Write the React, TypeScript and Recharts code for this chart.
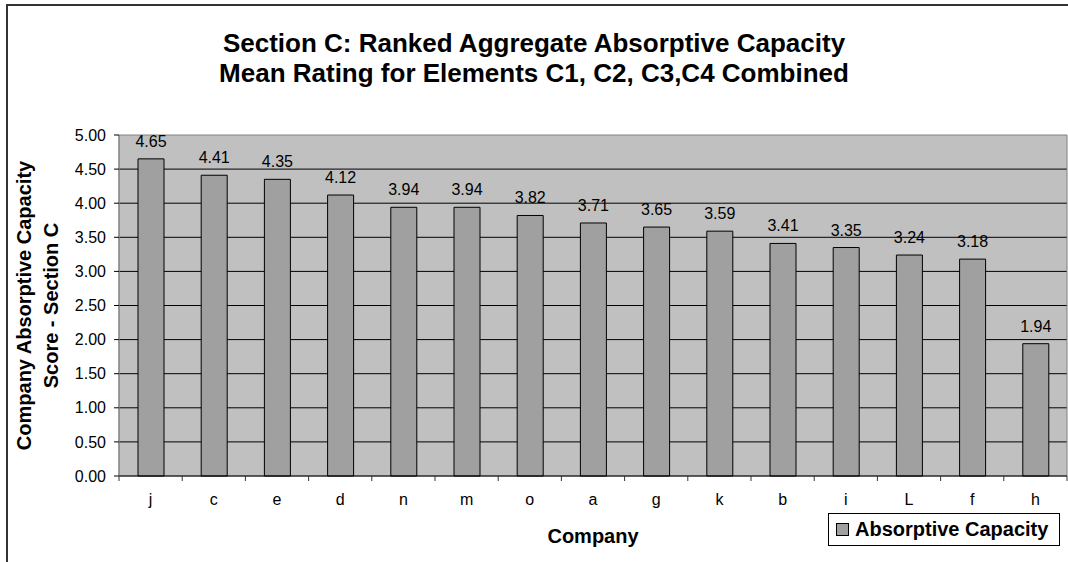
import React from 'react';
import { BarChart, Bar, XAxis, YAxis, CartesianGrid, LabelList, Legend, ReferenceArea, Label } from 'recharts';

const companies = ['j', 'c', 'e', 'd', 'n', 'm', 'o', 'a', 'g', 'k', 'b', 'i', 'L', 'f', 'h'];
const scores = [4.65, 4.41, 4.35, 4.12, 3.94, 3.94, 3.82, 3.71, 3.65, 3.59, 3.41, 3.35, 3.24, 3.18, 1.94];
const yTicks = [0, 0.5, 1, 1.5, 2, 2.5, 3, 3.5, 4, 4.5, 5];
const gridValues = [0.5, 1, 1.5, 2, 2.5, 3, 3.5, 4, 4.5];
const titleLines = ['Section C: Ranked Aggregate Absorptive Capacity', 'Mean Rating for Elements C1, C2, C3,C4 Combined'];
const yTitleLines = ['Company Absorptive Capacity', 'Score - Section C'];
const seriesName = 'Absorptive Capacity';

const data = companies.map((name, i) => ({ name, score: scores[i] }));

const FONT = '"Liberation Sans", Arial, Helvetica, sans-serif';
const W = 1068;
const H = 562;
const margin = { top: 135, right: 1, bottom: 0, left: 0 };
const Y_AXIS_W = 119;
const X_AXIS_H = 86;
const PLOT_LEFT = margin.left + Y_AXIS_W;
const PLOT_RIGHT = W - margin.right;
const PLOT_BOTTOM = H - X_AXIS_H;
const BAND = (PLOT_RIGHT - PLOT_LEFT) / companies.length;

// category ticks sit on the band edges, labels in the middle
const XTick = (props: any) => {
  const { x, payload, index } = props;
  const last = index === companies.length - 1;
  return (
    <g>
      <line x1={x - BAND / 2} x2={x - BAND / 2} y1={PLOT_BOTTOM} y2={PLOT_BOTTOM + 5} stroke="#333" />
      {last && <line x1={x + BAND / 2} x2={x + BAND / 2} y1={PLOT_BOTTOM} y2={PLOT_BOTTOM + 5} stroke="#333" />}
      <text x={x} y={PLOT_BOTTOM + 29} textAnchor="middle" fontSize={16} fontFamily={FONT} fill="#000">
        {payload.value}
      </text>
    </g>
  );
};

const LegendBox = () => (
  <div
    style={{
      boxSizing: 'border-box',
      width: 232,
      height: 33,
      border: '1px solid #000',
      background: '#fff',
      display: 'flex',
      alignItems: 'center',
      paddingLeft: 7,
      fontFamily: FONT,
      fontWeight: 'bold',
      fontSize: 20,
      color: '#000',
      whiteSpace: 'nowrap',
    }}
  >
    <span style={{ display: 'inline-block', boxSizing: 'border-box', width: 13, height: 13, background: '#a0a0a0', border: '1px solid #000', marginRight: 6 }} />
    {seriesName}
  </div>
);

export default function App() {
  return (
    <div style={{ position: 'absolute', left: 0, top: 0, width: W, height: H, overflow: 'hidden', background: '#fff', fontFamily: FONT }}>
      <div style={{ position: 'absolute', left: 6, top: 4, width: W + 20, height: H + 20, borderLeft: '2px solid #333', borderTop: '2px solid #333' }} />
      <div style={{ position: 'absolute', left: 0, top: 28, width: W, textAlign: 'center', fontSize: 26, lineHeight: '30px', fontWeight: 'bold', color: '#000' }}>
        {titleLines.map((t) => (
          <div key={t}>{t}</div>
        ))}
      </div>
      <div style={{ position: 'absolute', left: 0, top: 0 }}>
        <BarChart width={W} height={H} data={data} margin={margin} barSize={26}>
          <CartesianGrid vertical={false} horizontalValues={gridValues} stroke="#000" fill="#c0c0c0" fillOpacity={1} />
          <ReferenceArea y1={0} y2={5} fill="none" stroke="#808080" strokeWidth={1} ifOverflow="visible" />
          <XAxis
            dataKey="name"
            interval={0}
            height={X_AXIS_H}
            tickLine={false}
            axisLine={{ stroke: '#000' }}
            tick={<XTick />}
          >
            <Label
              content={(p: any) => {
                const vb = p.viewBox;
                return (
                  <text x={vb.x + vb.width / 2} y={543} textAnchor="middle" fontSize={20} fontWeight="bold" fontFamily={FONT} fill="#000">
                    Company
                  </text>
                );
              }}
            />
          </XAxis>
          <YAxis
            width={Y_AXIS_W}
            domain={[0, 5]}
            ticks={yTicks}
            interval={0}
            tickFormatter={(v: number) => v.toFixed(2)}
            tick={{ fontSize: 16, fill: '#000', fontFamily: FONT }}
            tickSize={5}
            tickMargin={8}
            tickLine={{ stroke: '#000' }}
            axisLine={{ stroke: '#808080' }}
          >
            <Label
              content={(p: any) => {
                const vb = p.viewBox;
                const cy = vb.y + vb.height / 2;
                return (
                  <g>
                    {yTitleLines.map((t, i) => (
                      <text
                        key={t}
                        x={31 + i * 27}
                        y={cy}
                        transform={`rotate(-90 ${31 + i * 27} ${cy})`}
                        textAnchor="middle"
                        fontSize={20}
                        fontWeight="bold"
                        fontFamily={FONT}
                        fill="#000"
                      >
                        {t}
                      </text>
                    ))}
                  </g>
                );
              }}
            />
          </YAxis>
          <Legend
            verticalAlign="middle"
            content={<LegendBox />}
            wrapperStyle={{ position: 'absolute', left: 828, top: 513, width: 232, height: 33, bottom: 'auto' }}
          />
          <Bar dataKey="score" name={seriesName} fill="#a0a0a0" stroke="#000" strokeWidth={1} isAnimationActive={false}>
            <LabelList
              dataKey="score"
              position="top"
              offset={12}
              formatter={(v: any) => Number(v).toFixed(2)}
              style={{ fontSize: 16, fill: '#000', fontFamily: FONT }}
            />
          </Bar>
        </BarChart>
      </div>
    </div>
  );
}
